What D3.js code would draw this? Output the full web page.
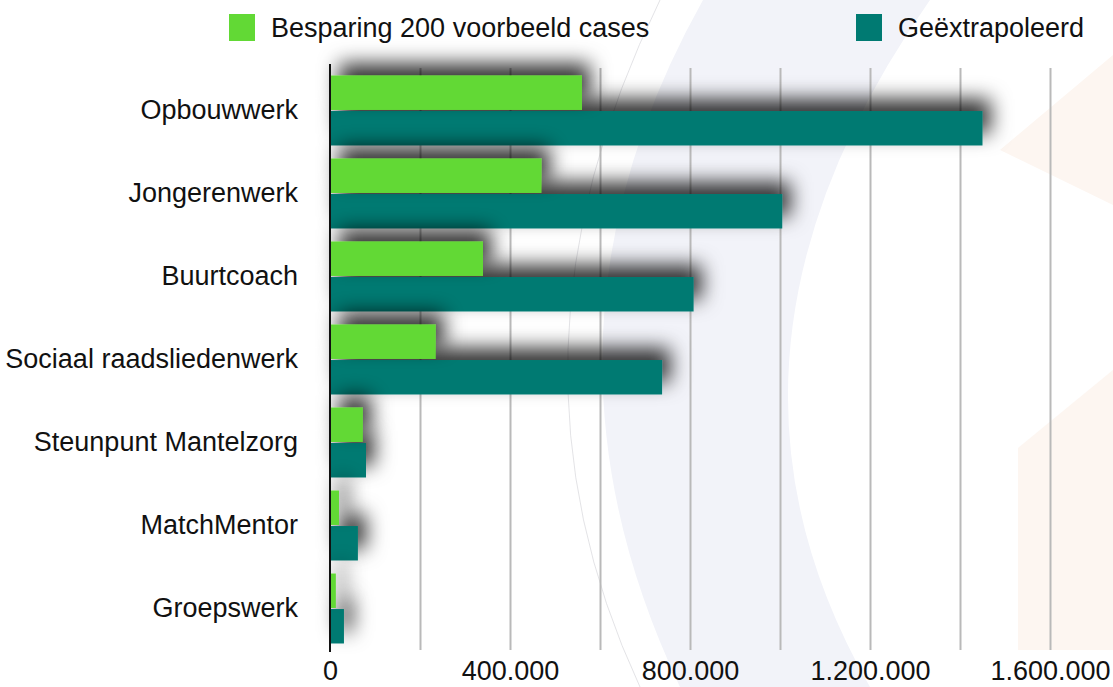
<!DOCTYPE html>
<html>
<head>
<meta charset="utf-8">
<script src="https://cdn.jsdelivr.net/npm/d3@7"></script>
<style>
  body { margin: 0; background: #ffffff; }
  svg { display: block; font-family: "Liberation Sans", Arial, Helvetica, sans-serif; }
</style>
</head>
<body>
<script>
// chart data
var categories = ["Opbouwwerk", "Jongerenwerk", "Buurtcoach", "Sociaal raadsliedenwerk",
                  "Steunpunt Mantelzorg", "MatchMentor", "Groepswerk"];
var seriesNames = ["Besparing 200 voorbeeld cases", "Geëxtrapoleerd"];
var besparing = [560000, 470000, 340000, 235000, 73000, 20000, 13000];
var geextrapoleerd = [1450000, 1005000, 808000, 738000, 80000, 62000, 31000];
var tickLabels = [0, 400000, 800000, 1200000, 1600000];
var gridValues = [200000, 400000, 600000, 800000, 1000000, 1200000, 1400000, 1600000];

var WIDTH = 1113, HEIGHT = 687;
var GREEN = "#62d935", TEAL = "#007a72";
var FONT = "\"Liberation Sans\", Arial, Helvetica, sans-serif";

var svg = d3.select("body").append("svg")
            .attr("width", WIDTH)
            .attr("height", HEIGHT);

// drop shadow, goes up and to the right
var defs = svg.append("defs");
var shadow = defs.append("filter")
            .attr("id", "bar_shadow")
            .attr("filterUnits", "userSpaceOnUse")
            .attr("x", 0).attr("y", 0)
            .attr("width", WIDTH).attr("height", HEIGHT);
shadow.append("feGaussianBlur").attr("in", "SourceAlpha").attr("stdDeviation", 10);
shadow.append("feOffset").attr("dx", 8).attr("dy", -12).attr("result", "off");
shadow.append("feFlood").attr("flood-color", "#000").attr("flood-opacity", 0.8);
shadow.append("feComposite").attr("in2", "off").attr("operator", "in");
var merge = shadow.append("feMerge");
merge.append("feMergeNode");
merge.append("feMergeNode").attr("in", "SourceGraphic");

// background decoration
var bg = svg.append("g").attr("id", "background");
bg.append("rect").attr("width", WIDTH).attr("height", HEIGHT).style("fill", "#ffffff");
bg.append("path")
    .attr("d", "M703,0 Q514,337 680,687 L870,687 Q680,356 930,0 Z")
    .style("fill", "#f2f3f9");
bg.append("path")
    .attr("d", "M660,0 Q486,356 640,687")
    .style("fill", "none")
    .style("stroke", "#dcdce0")
    .style("stroke-width", 0.8);
bg.append("path")
    .attr("d", "M1000,150 L1113,55 L1113,205 Z")
    .style("fill", "#fdf6f1");
bg.append("path")
    .attr("d", "M1018,448 L1113,370 L1113,650 L1018,650 Z")
    .style("fill", "#fdf6f1");

// scales
var x = d3.scaleLinear().domain([0, 1600000]).range([330, 1050]);
var y = d3.scaleBand().domain(categories).range([69, 650])
            .paddingInner(0.157).paddingOuter(0.0785);
var ySub = d3.scaleBand().domain(seriesNames).range([0, y.bandwidth()]).paddingInner(0.03);

var nl = d3.formatLocale({ decimal: ",", thousands: ".", grouping: [3], currency: ["€", ""] });
var fmt = nl.format(",d");

// gridlines
svg.append("g")
    .attr("class", "grid")
    .attr("transform", "translate(0,650)")
    .call(d3.axisBottom(x).tickValues(gridValues).tickSize(-582).tickFormat(""))
    .call(function(g) { g.select(".domain").remove(); })
    .selectAll("line")
    .style("stroke", "#b9b9b9")
    .style("stroke-width", 2);

// bars: teal first so the green shadows fall on them
var rows = categories.map(function(c, i) {
  return { cat: c, values: [besparing[i], geextrapoleerd[i]] };
});

[1, 0].forEach(function(s) {
  svg.append("g")
      .attr("class", "series_" + s)
      .selectAll("rect")
      .data(rows)
      .join("rect")
      .attr("x", x(0) + 1)
      .attr("y", function(d) { return y(d.cat) + ySub(seriesNames[s]); })
      .attr("width", function(d) { return x(d.values[s]) - x(0) - 1; })
      .attr("height", ySub.bandwidth())
      .attr("filter", "url(#bar_shadow)")
      .style("fill", s === 0 ? GREEN : TEAL);
});

// category axis
var yAxis = svg.append("g")
    .attr("transform", "translate(330,0)")
    .call(d3.axisLeft(y).tickSize(0).tickPadding(32));
yAxis.select(".domain").remove();
yAxis.selectAll("text")
    .attr("dy", "0.33em")
    .style("font-size", "27px")
    .style("font-family", FONT)
    .style("fill", "#111");

svg.append("line")
    .attr("x1", 330).attr("x2", 330)
    .attr("y1", 64).attr("y2", 652)
    .style("stroke", "#111")
    .style("stroke-width", 2);

// value axis labels
var xAxis = svg.append("g")
    .attr("transform", "translate(0,650)")
    .call(d3.axisBottom(x).tickValues(tickLabels).tickSize(0).tickPadding(0).tickFormat(fmt));
xAxis.select(".domain").remove();
xAxis.selectAll("text")
    .attr("y", 30)
    .attr("dy", 0)
    .style("font-size", "27px")
    .style("font-family", FONT)
    .style("fill", "#111");

// legend
var legendPos = [229, 856];
var legend = svg.append("g").attr("class", "legend");
seriesNames.forEach(function(name, i) {
  legend.append("rect")
      .attr("x", legendPos[i]).attr("y", 14)
      .attr("width", 26).attr("height", 27)
      .style("fill", i === 0 ? GREEN : TEAL);
  legend.append("text")
      .attr("x", legendPos[i] + 42).attr("y", 37)
      .style("font-size", "27px")
      .style("fill", "#111")
      .text(name);
});
</script>
</body>
</html>
